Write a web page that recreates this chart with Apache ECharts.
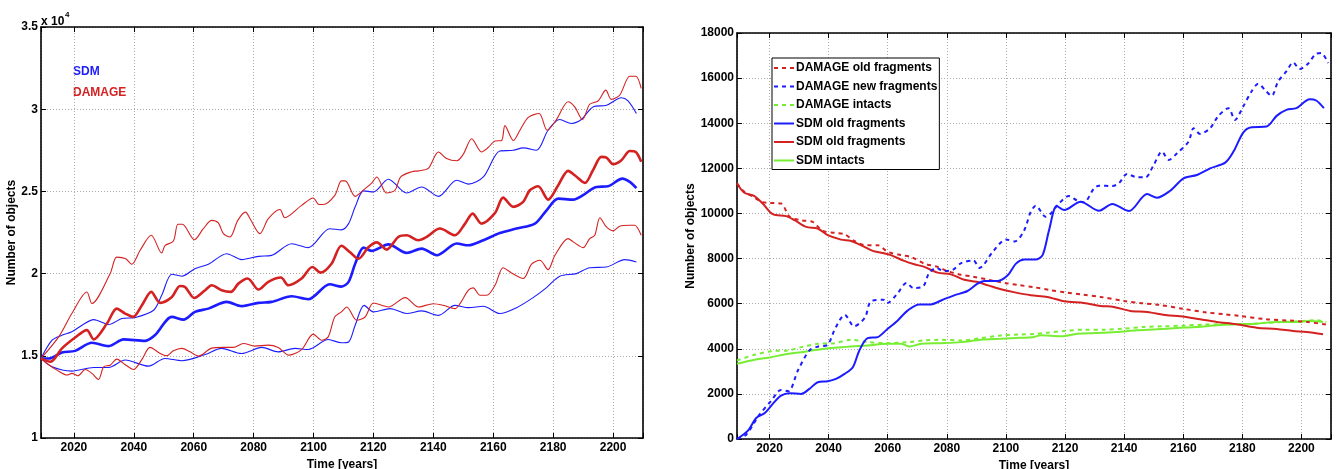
<!DOCTYPE html>
<html><head><meta charset="utf-8">
<script src="https://cdn.jsdelivr.net/npm/echarts@6/dist/echarts.min.js"></script>
<style>html,body{margin:0;padding:0;background:#fff}#c{width:1339px;height:469px}</style>
</head><body><div id="c"></div>
<script>
// ---------- LEFT PANEL (total objects, [year, objects]) ----------
const sdmMean = [[2009,14840],[2011.6,14840],[2016,15200],[2020.4,15300],[2026,15790],[2031.6,15590],[2036.6,16000],[2043.8,15910],[2047.1,16260],[2052.7,17370],[2056.6,17200],[2060.4,17670],[2064.9,17870],[2071,18280],[2076,18020],[2081.6,18220],[2086,18280],[2092.7,18620],[2098.2,18440],[2105.4,19350],[2109.3,19210],[2111.7,19500],[2113.9,20600],[2116.7,21580],[2119.4,21380],[2125,21780],[2131.1,21260],[2136.1,21520],[2141.1,21120],[2147.8,21830],[2151.7,21720],[2156.7,22030],[2162.2,22470],[2167.8,22740],[2173.9,23040],[2177.8,23850],[2181.7,24560],[2186.7,24500],[2190,24770],[2194.4,25270],[2198.3,25310],[2203.1,25780],[2205.6,25580],[2207.8,25200]];
const sdmUpper = [[2009,14840],[2012.7,15950],[2016,16250],[2019.3,16460],[2022.7,16860],[2026.6,17200],[2031.6,16900],[2036,17270],[2040.4,17330],[2046.6,17770],[2049.3,18680],[2052.7,19960],[2056,19840],[2060.4,20300],[2064.9,20570],[2071,21210],[2076,20850],[2081.6,21050],[2086,21110],[2092.7,21820],[2098.2,21580],[2105.4,22730],[2109.3,22660],[2111.7,23040],[2113.9,24060],[2116.7,25030],[2120,24970],[2125,25740],[2131.1,24900],[2136.1,25270],[2141.7,24700],[2147.8,25680],[2151.7,25440],[2156.7,25880],[2162.2,27460],[2166.7,27500],[2170,27650],[2174.4,27500],[2178.3,28720],[2182.2,29370],[2186.1,29130],[2189.4,29370],[2193.3,30140],[2197.8,30240],[2202.8,30700],[2205,30500],[2207.8,29740]];
const sdmLower = [[2009,14840],[2012.7,14330],[2019.3,14070],[2026.6,14290],[2031.6,14290],[2037.1,14740],[2044.9,14370],[2050.4,14840],[2056,14700],[2063.8,15080],[2069.3,15450],[2076,15140],[2082.7,15510],[2088.2,15240],[2093.8,15450],[2098.2,15380],[2104.9,15990],[2109.3,15790],[2111.7,15840],[2113.9,16860],[2116.9,18070],[2120,17670],[2125.6,17870],[2131.1,17570],[2136.1,17730],[2141.7,17460],[2147.2,18070],[2151.7,17930],[2156.7,18010],[2162.2,17570],[2167.8,17930],[2173.3,18540],[2177.8,19150],[2182.2,19840],[2187.8,20000],[2192.2,20360],[2197.8,20400],[2203.9,20850],[2207.8,20710]];
const damageMean = [[2009,14840],[2012.1,14640],[2016,15450],[2020.4,16110],[2024.3,16560],[2026.6,16000],[2031,16960],[2034.3,17870],[2037.1,17570],[2039.7,17370],[2042.7,18080],[2045.8,18890],[2048.8,18220],[2052.7,18580],[2055.4,19250],[2057.1,19190],[2060.2,18520],[2063.8,18990],[2066,19290],[2069.3,18990],[2072.4,18890],[2074.9,19390],[2078,19700],[2081.6,19030],[2084.9,19500],[2089.1,19760],[2091.6,19290],[2096,19700],[2099.6,20400],[2102.4,20060],[2106,20600],[2109.3,21690],[2112.2,21300],[2115,20900],[2118.3,21600],[2121.1,21900],[2124.4,21460],[2128.3,22230],[2131.1,22330],[2135,22030],[2137.8,22230],[2142.2,22740],[2147.2,22330],[2150.6,23040],[2153.1,23650],[2156.1,23040],[2160.6,23690],[2163.3,24620],[2166.7,24060],[2170,24360],[2172.2,25070],[2175,25310],[2178.3,24500],[2181.7,25380],[2185,26250],[2187.2,25980],[2190.6,25520],[2193.3,26290],[2196.1,27100],[2197.8,27060],[2200,26650],[2202.8,26900],[2205.6,27460],[2207.6,27400],[2209.4,26800]];
const damageUpper = [[2009,14840],[2014.9,16150],[2019.3,17570],[2024.3,18880],[2026,18180],[2032.1,20000],[2034.3,21000],[2037.3,20900],[2039.3,20570],[2042.1,21420],[2045.8,22330],[2049.3,21250],[2050.4,21700],[2053.2,21980],[2054.7,23000],[2056.2,23000],[2060.2,22060],[2063.2,22730],[2066,23240],[2068.2,23080],[2069.9,22430],[2072.1,22230],[2074.7,23240],[2077.3,23740],[2078.8,23340],[2082.1,22430],[2084.9,23340],[2088.8,23900],[2090.4,23400],[2096,24150],[2099.9,24600],[2101.8,24200],[2103.2,24200],[2107.1,24760],[2109.3,25640],[2110.6,25640],[2113.9,24700],[2117.2,25170],[2119.4,25500],[2121.1,25880],[2124.4,24900],[2127.2,25070],[2129.1,25880],[2132.8,26200],[2135,26250],[2138.3,26400],[2141.7,27400],[2144.4,27000],[2147.8,26860],[2150,27260],[2152.8,28200],[2156.1,27400],[2158.3,27670],[2160.6,28070],[2162.8,28100],[2163.9,29000],[2166.7,28100],[2168.9,28720],[2171.7,29500],[2175.3,29740],[2178,28720],[2181.1,29370],[2185,30450],[2187.2,30140],[2189.8,29370],[2192.2,30300],[2195,30500],[2197.6,31160],[2199.4,30600],[2202.2,30850],[2205.6,32000],[2207.6,32000],[2209.4,31260]];
const damageLower = [[2009,14840],[2011,14530],[2014.3,14130],[2017.7,13830],[2019.3,13930],[2021.3,13790],[2023.8,14170],[2026,13930],[2028.2,13560],[2029.9,14330],[2032.1,14430],[2034.3,14800],[2036.9,14490],[2039.9,14170],[2042.7,14780],[2045.4,15510],[2048.8,15140],[2051,15000],[2053.2,15300],[2056,15450],[2058.8,15240],[2061.6,14980],[2065.8,15450],[2069.9,15510],[2073.2,15510],[2076.6,15750],[2080.4,15590],[2084.9,15650],[2088.2,15510],[2091.8,15040],[2096,15380],[2099.9,16320],[2102.7,15950],[2104.9,16150],[2107.1,17370],[2109.3,17670],[2111.1,17970],[2114.4,17160],[2117.2,17360],[2120,18210],[2125,17970],[2130.6,18540],[2135,17970],[2140,18170],[2143.3,18070],[2147.2,17870],[2148.9,18170],[2151.7,18990],[2153.3,19130],[2155.6,18680],[2157.8,18680],[2160.6,19290],[2163.3,20360],[2166.1,20040],[2170,19700],[2172.8,20570],[2175.6,20810],[2178.3,20240],[2180.6,21120],[2185,22130],[2186.7,21930],[2190,21580],[2192.2,22130],[2193.9,22330],[2195.6,23400],[2197.8,22840],[2200,22600],[2202.2,22880],[2205.6,22940],[2207.2,22940],[2209.4,22330]];

// ---------- RIGHT PANEL ([year, objects]) ----------
const dmgOldFrag = [[2009,11330],[2011.5,10960],[2014.9,10710],[2017.2,10515],[2020,10470],[2023.9,10440],[2026.8,9850],[2030.7,9700],[2034.6,9625],[2038,9230],[2042,9140],[2045.4,9080],[2048.7,8780],[2052.7,8590],[2056.6,8590],[2060,8300],[2064.5,8150],[2067.9,8070],[2072.4,7775],[2076.9,7630],[2080.3,7440],[2084.8,7280],[2088.8,7200],[2094.5,7050],[2100,6910],[2104,6830],[2109.4,6730],[2115,6600],[2120.7,6490],[2126,6400],[2132,6300],[2140,6120],[2146,6020],[2152,5945],[2160,5770],[2168,5610],[2174,5530],[2179,5457],[2188,5310],[2196,5250],[2202,5190],[2209,5060]];
const dmgNewFrag = [[2009,0],[2012.1,190],[2016.6,1080],[2020.6,1700],[2023.9,2177],[2026.4,2118],[2029.6,3036],[2033.5,3925],[2036.5,4100],[2039.6,4170],[2042.4,4950],[2045.5,5500],[2048.6,5000],[2052.3,5384],[2054.3,6102],[2058.5,6176],[2059.8,6028],[2063,6400],[2066.4,6915],[2068.7,6690],[2072,6770],[2074,7360],[2076.5,7585],[2078.8,7450],[2082,7500],[2085,7807],[2089,7911],[2091,7585],[2095.7,8325],[2100,8843],[2103,8760],[2106.2,9256],[2108.4,10074],[2110.1,10340],[2113.5,9854],[2115.2,10000],[2118,10446],[2121.3,10772],[2124.2,10565],[2126.4,10491],[2129.8,11113],[2131.5,11231],[2136,11216],[2138.2,11335],[2141,11750],[2144.4,11601],[2147.2,11601],[2150,12149],[2152.8,12742],[2155.1,12372],[2157.9,12668],[2161.8,13186],[2163.5,13778],[2165.7,13527],[2169.1,13778],[2171.9,14326],[2175.3,14667],[2177.5,14148],[2180.3,14741],[2183.1,15408],[2185.4,15748],[2187.6,15482],[2189.9,15215],[2192.1,15852],[2194.9,16296],[2197.2,16696],[2199.4,16400],[2202.2,16637],[2205,17081],[2206.7,17111],[2209,16667]];
const dmgIntacts = [[2009,3480],[2014.9,3732],[2020.6,3895],[2026.2,3925],[2030.7,4073],[2036.3,4221],[2042,4250],[2047.6,4399],[2053.2,4295],[2060,4250],[2066.8,4295],[2072.4,4369],[2078,4399],[2084.8,4369],[2091.5,4473],[2098.3,4591],[2105.1,4636],[2110,4660],[2114,4715],[2119.7,4789],[2126.4,4848],[2133.1,4848],[2139.9,4893],[2146.6,4967],[2153.4,4996],[2160.1,5026],[2166.9,5070],[2173.6,5085],[2180.3,5085],[2187.1,5144],[2193.8,5189],[2200.5,5233],[2205,5263],[2208.4,5189]];
const sdmOldFragBlue = [[2009,0],[2012.7,370],[2015.5,933],[2018.3,1140],[2021.1,1555],[2023.9,1925],[2026.8,2029],[2030.7,2000],[2033.5,2222],[2036.3,2518],[2039.7,2562],[2042.5,2666],[2045.4,2888],[2048.2,3184],[2050.4,3925],[2053.2,4473],[2056.6,4517],[2060,4887],[2063.4,5258],[2066.8,5702],[2070.7,5968],[2074.6,5968],[2078.6,6176],[2082.5,6368],[2087,6561],[2090.4,6887],[2092.7,7005],[2097.2,7005],[2100.6,7257],[2103.4,7775],[2106.2,7953],[2110,7957],[2112.4,8150],[2114.6,9261],[2117.2,10328],[2119.7,10150],[2125.3,10520],[2131.5,10120],[2136,10416],[2141.6,10105],[2147.8,10861],[2151.1,10698],[2155.6,11009],[2160.1,11557],[2164.6,11705],[2169.1,12001],[2174.2,12253],[2177,12742],[2180.3,13586],[2183.1,13823],[2188.2,13853],[2191.6,14326],[2194.9,14593],[2198.3,14667],[2202.8,15067],[2205,15008],[2207.6,14667]];
const sdmOldFragRed = [[2009,11330],[2011.5,10915],[2014.9,10770],[2017.7,10440],[2021.1,9970],[2025.6,9880],[2028.5,9700],[2032.4,9405],[2036.3,9330],[2039.7,9035],[2044.2,8840],[2047.6,8780],[2051,8590],[2054.9,8340],[2058.3,8250],[2061.1,8150],[2065.6,7895],[2069,7745],[2072.4,7630],[2076.9,7375],[2081.4,7300],[2085.9,7060],[2090,6970],[2094,6810],[2098.3,6640],[2103,6500],[2108.4,6374],[2114,6300],[2119.7,6107],[2126.4,6030],[2132,5900],[2136.5,5855],[2142.1,5678],[2147.8,5633],[2154.5,5485],[2159,5440],[2165.7,5307],[2171.3,5189],[2178,5085],[2184.8,4937],[2191.6,4878],[2197.2,4790],[2201.7,4745],[2207.3,4641]];
const sdmIntacts = [[2009,3332],[2014.9,3510],[2020.6,3628],[2025.1,3747],[2030.7,3851],[2036.3,3955],[2042,4043],[2047.6,4102],[2053.2,4147],[2060,4221],[2064.5,4221],[2067.3,4102],[2071.3,4221],[2078,4250],[2084.8,4295],[2091.5,4399],[2098.3,4443],[2105.1,4488],[2109,4510],[2111.8,4596],[2118.5,4552],[2124.2,4670],[2130.9,4700],[2137.5,4745],[2144.3,4819],[2151,4863],[2157.9,4922],[2164.6,4967],[2171.3,5041],[2178,5085],[2184.8,5115],[2191.6,5189],[2198.3,5189],[2202.8,5233],[2207.3,5189]];

const legendNames = ['DAMAGE old fragments','DAMAGE new fragments','DAMAGE intacts','SDM old fragments','SDM old fragments ','SDM intacts'];
const yearMin = 2009, yearMax = 2210;

const FONT = '"Liberation Sans", Arial, Helvetica, sans-serif';
const BLUE = '#1c1cff', RED = '#d42222', GREEN = '#77ee33';

const chart = echarts.init(document.getElementById('c'), null, {renderer:'canvas'});

function xAx(grid, main){
  return {
    type:'value', gridIndex:grid, min:yearMin, max:yearMax, splitNumber:10, minInterval:20, maxInterval:20,
    position: main ? 'bottom' : 'top',
    axisLine:{show:true, onZero:false, lineStyle:{color:'#000', width:1.6}},
    axisTick:{show:true, inside:true, length:5, lineStyle:{color:'#000', width:1}},
    axisLabel:{show:main, color:'#000', fontFamily:FONT, fontWeight:'bold', fontSize:12, margin:4,
      formatter:v => (Math.round(v)%20===0 ? String(Math.round(v)) : '')},
    splitLine:{show:main, lineStyle:{color:'#aaa', type:[1,2], width:1}},
    name: main ? 'Time [years]' : '', nameLocation:'middle', nameGap:14,
    nameTextStyle:{color:'#000', fontFamily:FONT, fontWeight:'bold', fontSize:12}
  };
}
function yAx(grid, main, min, max, interval, fmt, gap){
  return {
    type:'value', gridIndex:grid, min:min, max:max, interval:interval,
    position: main ? 'left' : 'right',
    axisLine:{show:true, onZero:false, lineStyle:{color:'#000', width:1.6}},
    axisTick:{show:true, inside:true, length:5, lineStyle:{color:'#000', width:1}},
    axisLabel:{show:main, color:'#000', fontFamily:FONT, fontWeight:'bold', fontSize:12, margin:3, formatter:fmt},
    splitLine:{show:main, lineStyle:{color:'#aaa', type:[1,2], width:1}},
    name: main ? 'Number of objects' : '', nameLocation:'middle', nameGap:gap,
    nameTextStyle:{color:'#000', fontFamily:FONT, fontWeight:'bold', fontSize:12}
  };
}
function ln(name, data, color, width, type, xi, yi){
  return {type:'line', name:name, data:data, xAxisIndex:xi, yAxisIndex:yi, showSymbol:false, symbol:'none',
    smooth:0.3, lineStyle:{color:color, width:width, type:type}, itemStyle:{color:color}, animation:false};
}

const option = {
  backgroundColor:'#fff',
  animation:false,
  grid:[
    {left:41, right:696, top:27, bottom:31, containLabel:false, outerBoundsMode:'none'},
    {left:737, right:8, top:33, bottom:30, containLabel:false, outerBoundsMode:'none'}
  ],
  xAxis:[xAx(0,true), xAx(0,false), xAx(1,true), xAx(1,false)],
  yAxis:[
    yAx(0,true,10000,35000,5000, v => String(v/10000), 20),
    yAx(0,false,10000,35000,5000, v => '', 0),
    yAx(1,true,0,18000,2000, v => String(v), 35),
    yAx(1,false,0,18000,2000, v => '', 0)
  ],
  legend:{
    orient:'vertical', left:772, top:58, data:legendNames,
    itemWidth:20, itemHeight:12, itemGap:6.5, padding:[4,2,3,1],
    itemStyle:{opacity:0},
    lineStyle:{width:2},
    borderColor:'#000', borderWidth:1, backgroundColor:'#fff',
    textStyle:{color:'#000', fontFamily:FONT, fontWeight:'bold', fontSize:12, padding:[0,0,0,-3]},
    selectedMode:false
  },
  graphic:[
    {type:'text', left:41, top:16, style:{text:'x 10', font:'bold 12px '+FONT, fill:'#000'}},
    {type:'text', left:65, top:11, style:{text:'4', font:'bold 8px '+FONT, fill:'#000'}},
    {type:'text', left:73, top:66, style:{text:'SDM', font:'bold 12px '+FONT, fill:BLUE}},
    {type:'text', left:73, top:87, style:{text:'DAMAGE', font:'bold 12px '+FONT, fill:RED}}
  ],
  series:[
    ln('sdmLower', sdmLower, BLUE, 1.1, 'solid', 0, 0),
    ln('sdmUpper', sdmUpper, BLUE, 1.1, 'solid', 0, 0),
    ln('damageLower', damageLower, RED, 1.1, 'solid', 0, 0),
    ln('damageUpper', damageUpper, RED, 1.1, 'solid', 0, 0),
    ln('sdmMean', sdmMean, BLUE, 2.6, 'solid', 0, 0),
    ln('damageMean', damageMean, RED, 2.6, 'solid', 0, 0),

    ln(legendNames[5], sdmIntacts, GREEN, 2, 'solid', 2, 2),
    ln(legendNames[2], dmgIntacts, GREEN, 2, [4,4], 2, 2),
    ln(legendNames[4], sdmOldFragRed, RED, 2, 'solid', 2, 2),
    ln(legendNames[0], dmgOldFrag, RED, 2, [4,4], 2, 2),
    ln(legendNames[3], sdmOldFragBlue, BLUE, 2, 'solid', 2, 2),
    ln(legendNames[1], dmgNewFrag, BLUE, 2, [4,4], 2, 2)
  ]
};
chart.setOption(option);
</script></body></html>
